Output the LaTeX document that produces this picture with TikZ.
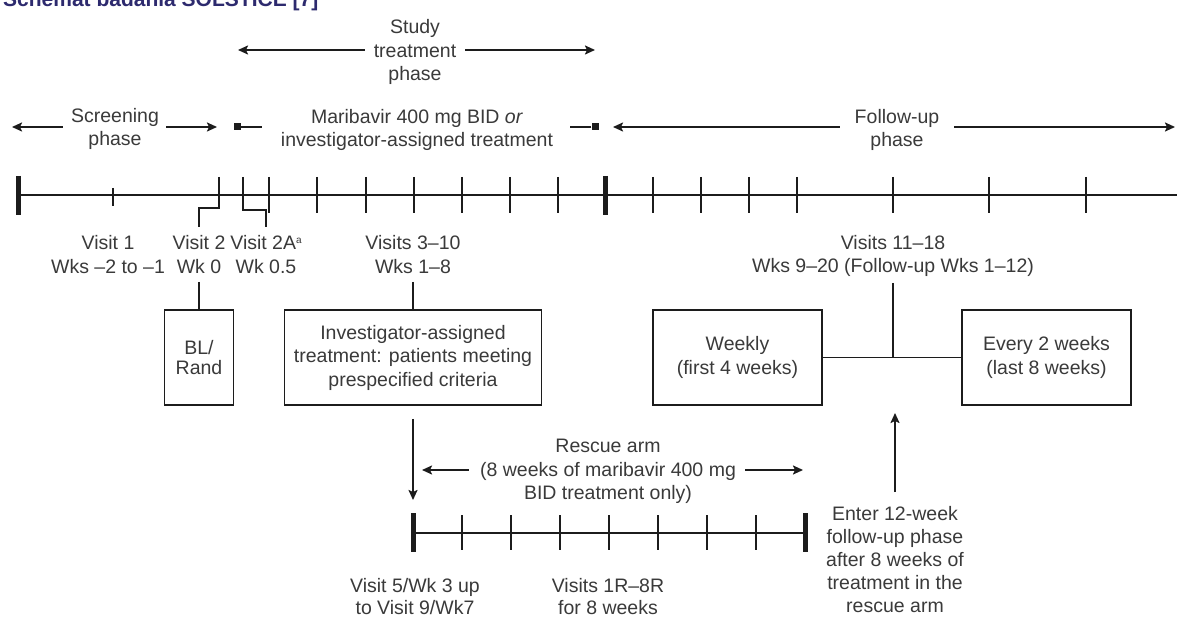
\documentclass[tikz,border=0pt]{standalone}
\usepackage{fontspec}
\setmainfont{Liberation Sans}
\usetikzlibrary{positioning,arrows.meta}
\definecolor{txtgray}{HTML}{3A3A3A}
\definecolor{linedark}{HTML}{1C1C1C}
\definecolor{titleblue}{HTML}{2D2A6E}

\begin{document}
\begin{tikzpicture}[x=1pt,y=-1pt,>={Stealth[length=10pt,width=9pt,inset=2pt]},
txt/.style = {align=center, text=txtgray, inner sep=0pt, font=\fontsize{19.5}{23.5}\selectfont},
box/.style = {txt, draw=linedark, line width=1.8pt, minimum height=95pt},
sqmark/.style = {fill=linedark, inner sep=0pt, minimum size=7pt},
timeline/.style = {draw=linedark, line width=2.6pt},
tk/.style = {draw=linedark, line width=1.9pt},
endtk/.style = {draw=linedark, line width=5pt},
link/.style = {draw=linedark, line width=1.9pt},
phasearrow/.style = {draw=linedark, line width=1.9pt, ->},]
\useasboundingbox (0,0) rectangle (1177,617);
\fill[white] (0,0) rectangle (1177,617);
\clip (0,0) rectangle (1177,617);
\node (title) at (3,7)[anchor=base west,inner sep=0pt,text=titleblue,font=\bfseries\fontsize{21}{24}\selectfont] {Schemat badania SOLSTICE [7]};
\node (study) at (415,52.25)[txt] {Study\\treatment\\phase};
\coordinate (studyL) at (238,50);
\coordinate (studyR) at (595,50);
\draw[phasearrow,shorten <=9pt] (study.west|-studyL)--(studyL);
\draw[phasearrow,shorten <=9pt] (study.east|-studyR)--(studyR);
\node (screen) at (115,128.75)[txt] {Screening\\phase};
\coordinate (screenL) at (12,127);
\coordinate (screenR) at (217,127);
\draw[phasearrow,shorten <=8pt] (screen.west|-screenL)--(screenL);
\draw[phasearrow,shorten <=7pt] (screen.east|-screenR)--(screenR);
\node (mari) at (417,129.75)[txt] {Maribavir 400 mg BID \textit{or}\\investigator-assigned treatment};
\node (sqL) at (237,127)[sqmark] {};
\node (sqR) at (595,127)[sqmark] {};
\draw[link,shorten >=19pt] (sqL)--(mari.west|-sqL);
\draw[link,shorten >=17pt] (sqR)--(mari.east|-sqR);
\node (fu) at (897,129.75)[txt] {Follow-up\\phase};
\coordinate (fuL) at (613,127);
\coordinate (fuR) at (1175,127);
\draw[phasearrow,shorten <=15pt] (fu.west|-fuL)--(fuL);
\draw[phasearrow,shorten <=15pt] (fu.east|-fuR)--(fuR);
\draw[timeline] (18,195)--(1177,195);
\draw[endtk] (18,176)--(18,215);
\draw[endtk] (605,176)--(605,215);
\draw[tk] (113,188)--(113,206);
\foreach \x in {269,317,366,414,462,510,558,653,701,749,797,893,989,1086}
  \draw[tk] (\x,177)--(\x,213);
\node (v1) at (108,254.75)[txt] {Visit 1\\Wks –2 to –1};
\node (v2) at (199,254.75)[txt] {Visit 2\\Wk 0};
\node (v2a) at (266,254.75)[txt] {Visit 2A\raisebox{6pt}{\fontsize{10}{10}\selectfont a}\\Wk 0.5};
\node (v3) at (413,254.75)[txt] {Visits 3–10\\Wks 1–8};
\node (v11) at (893,255.75)[txt] {Visits 11–18\\Wks 9–20 (Follow-up Wks 1–12)};
\draw[tk,shorten >=9pt] (219,177)|-(199,208)--(v2.north);
\draw[tk,shorten >=9pt] (243,177)|-(266,210)--(v2a.north);
\node (bl) at (199,357.5)[box,minimum width=69pt] {BL/\\[-3pt]Rand};
\node (inv) at (413,357.5)[box,minimum width=257pt] {Investigator-assigned\\treatment: patients meeting\\prespecified criteria};
\node (weekly) at (737.5,357.5)[box,minimum width=169pt] {Weekly\\(first 4 weeks)};
\node (every) at (1046.5,357.5)[box,minimum width=169pt] {Every 2 weeks\\(last 8 weeks)};
\coordinate (junc) at (893,357.5);
\draw[link,shorten <=8pt] (v2.south)--(bl.north);
\draw[link,shorten <=8pt] (v3.south)--(inv.north);
\draw[link,shorten <=6pt] (v11.south)--(junc);
\draw[link] (weekly.east)--(every.west);
\coordinate (rTop) at (413,513);
\draw[phasearrow,shorten <=13pt,shorten >=13pt] (inv.south)--(rTop);
\node (rescue) at (608,471.5)[txt] {Rescue arm\\(8 weeks of maribavir 400 mg\\BID treatment only)};
\coordinate (resL) at (422,470);
\coordinate (resR) at (803,470);
\draw[phasearrow,shorten <=11pt] (rescue.west|-resL)--(resL);
\draw[phasearrow,shorten <=9pt] (rescue.east|-resR)--(resR);
\draw[timeline] (413,533)--(805,533);
\draw[endtk] (413,513)--(413,552);
\draw[endtk] (805,513)--(805,552);
\foreach \i in {1,...,7}
  \draw[tk] (413+49*\i,515)--(413+49*\i,550);
\node (r1) at (415,597)[txt] {Visit 5/Wk 3 up\\[-1.5pt]to Visit 9/Wk7};
\node (r2) at (608,596.5)[txt] {Visits 1R–8R\\[-1.5pt]for 8 weeks};
\node (enter) at (895,559.5)[txt,font=\fontsize{19.5}{23}\selectfont] {Enter 12-week\\follow-up phase\\after 8 weeks of\\treatment in the\\rescue arm};
\coordinate (fuIn) at (895,413);
\draw[phasearrow,shorten <=14pt] (enter.north)--(fuIn);
\end{tikzpicture}
\end{document}
